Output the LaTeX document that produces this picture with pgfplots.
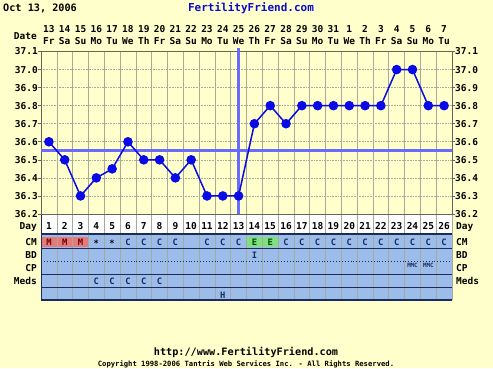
\documentclass[border=0pt]{standalone}
\usepackage{pgfplots}
\pgfplotsset{compat=1.18}
\usepackage{fontspec}
\setmainfont{DejaVu Sans Mono}
\definecolor{bg}{HTML}{FFFFCC}
\definecolor{tblue}{HTML}{9CBDEA}
\definecolor{mred}{HTML}{E57A7A}
\definecolor{egreen}{HTML}{7FE07F}
\definecolor{navy}{HTML}{1C2B5E}
\definecolor{tline}{HTML}{0A0AE6}
\definecolor{cover}{HTML}{6A6AFF}
\definecolor{ffblue}{HTML}{0A0AD0}
\definecolor{gridc}{HTML}{A8A8A0}
\newcommand\lf{\fontsize{9.5bp}{11.4bp}\selectfont\bfseries}
\newcommand\smf{\fontsize{8.8bp}{9bp}\selectfont\bfseries}
\begin{document}
\begin{tikzpicture}[x=1bp,y=1bp]
\fill[bg] (0,0) rectangle (493,368);
\node[anchor=base west, inner sep=0] at (3,356.5) {\fontsize{10.2bp}{11bp}\selectfont\bfseries Oct 13, 2006};
\node[anchor=base, inner sep=0, text=ffblue] at (251,356.5) {\fontsize{11bp}{12bp}\selectfont\bfseries FertilityFriend.com};
\node[anchor=base, inner sep=0] at (246,13) {\fontsize{10.2bp}{11bp}\selectfont\bfseries http://www.FertilityFriend.com};
\node[anchor=base, inner sep=0] at (246,1.5) {\fontsize{7.2bp}{8bp}\selectfont\bfseries Copyright 1998-2006 Tantris Web Services Inc. - All Rights Reserved.};
\node[anchor=base east, inner sep=0] at (37,329) {\lf Date};

% ---- chart table ----
\begin{axis}[at={(41bp,68bp)}, anchor=south west, scale only axis, width=411bp, height=86bp,
  xmin=0.5, xmax=26.5, ymin=-300, ymax=-214, hide axis, clip=false]
\fill[white] (axis cs:0.5,-234) rectangle (axis cs:26.5,-214);
\fill[tblue] (axis cs:0.5,-300) rectangle (axis cs:26.5,-234);
\fill[mred] (axis cs:0.5,-246.7) rectangle (axis cs:3.5,-236.5);
\fill[egreen] (axis cs:13.5,-246.7) rectangle (axis cs:15.5,-236.5);
\pgfplotsinvokeforeach{1.5,2.5,...,25.5}{\draw[gridc, line width=0.6bp] (axis cs:#1,-300) -- (axis cs:#1,-214);}
\draw[navy, line width=1.2bp] (axis cs:0.5,-234) -- (axis cs:26.5,-234);
\draw[navy, line width=0.9bp] (axis cs:0.5,-248) -- (axis cs:26.5,-248);
\draw[navy, line width=0.9bp, dotted] (axis cs:0.5,-261) -- (axis cs:26.5,-261);
\draw[navy, line width=0.9bp] (axis cs:0.5,-274) -- (axis cs:26.5,-274);
\draw[navy, line width=0.9bp] (axis cs:0.5,-287) -- (axis cs:26.5,-287);
\draw[navy, line width=1.2bp] (axis cs:0.5,-300) -- (axis cs:26.5,-300);
\draw[navy, line width=1bp] (axis cs:0.5,-300) -- (axis cs:0.5,-214);
\draw[gridc, line width=0.8bp] (axis cs:26.5,-300) -- (axis cs:26.5,-214);
% day numbers
\pgfplotsinvokeforeach{1,...,26}{\node[anchor=base, inner sep=0] at (axis cs:#1,-229) {\lf #1};}
% row labels
\node[anchor=base east, inner sep=0] at ([xshift=-4bp]axis cs:0.5,-229) {\lf Day};
\node[anchor=base east, inner sep=0] at ([xshift=-4bp]axis cs:0.5,-245) {\lf CM};
\node[anchor=base east, inner sep=0] at ([xshift=-4bp]axis cs:0.5,-258) {\lf BD};
\node[anchor=base east, inner sep=0] at ([xshift=-4bp]axis cs:0.5,-271.5) {\lf CP};
\node[anchor=base east, inner sep=0] at ([xshift=-4bp]axis cs:0.5,-284.5) {\lf Meds};
\node[anchor=base west, inner sep=0] at ([xshift=4bp]axis cs:26.5,-229) {\lf Day};
\node[anchor=base west, inner sep=0] at ([xshift=4bp]axis cs:26.5,-245) {\lf CM};
\node[anchor=base west, inner sep=0] at ([xshift=4bp]axis cs:26.5,-258) {\lf BD};
\node[anchor=base west, inner sep=0] at ([xshift=4bp]axis cs:26.5,-271.5) {\lf CP};
\node[anchor=base west, inner sep=0] at ([xshift=4bp]axis cs:26.5,-284.5) {\lf Meds};
% CM row
\pgfplotsinvokeforeach{1,2,3}{\node[anchor=base, inner sep=0, text=red!45!black] at (axis cs:#1,-245) {\smf M};}
\pgfplotsinvokeforeach{4,5}{\node[anchor=base, inner sep=0] at (axis cs:#1,-246) {\smf *};}
\pgfplotsinvokeforeach{6,7,8,9,11,12,13,16,17,18,19,20,21,22,23,24,25,26}{\node[anchor=base, inner sep=0, text=navy] at (axis cs:#1,-245) {\smf C};}
\pgfplotsinvokeforeach{14,15}{\node[anchor=base, inner sep=0, text=green!30!black] at (axis cs:#1,-245) {\smf E};}
% BD row
\node[anchor=base, inner sep=0, text=navy] at (axis cs:14,-258.5) {\smf I};
% CP row
\pgfplotsinvokeforeach{24,25}{\node[anchor=base, inner sep=0, text=navy] at (axis cs:#1,-267.5) {\fontsize{5.8bp}{6bp}\selectfont\bfseries MMC};}
% Meds row
\pgfplotsinvokeforeach{4,5,6,7,8}{\node[anchor=base, inner sep=0, text=navy] at (axis cs:#1,-284.5) {\smf C};}
% last row
\node[anchor=base, inner sep=0, text=navy] at (axis cs:12,-298) {\smf H};
\end{axis}

% ---- temperature chart ----
\begin{axis}[at={(41bp,154bp)}, anchor=south west, scale only axis, width=411bp, height=162.5bp,
  xmin=0.5, xmax=26.5, ymin=36.2, ymax=37.1, clip=false,
  axis background/.style={fill=bg},
  axis line style={gridc!60!black, line width=0.8bp},
  xtick={1,...,26},
  xticklabels={{13\\Fr},{14\\Sa},{15\\Su},{16\\Mo},{17\\Tu},{18\\We},{19\\Th},{20\\Fr},{21\\Sa},{22\\Su},{23\\Mo},{24\\Tu},{25\\We},{26\\Th},{27\\Fr},{28\\Sa},{29\\Su},{30\\Mo},{31\\Tu},{1\\We},{2\\Th},{3\\Fr},{4\\Sa},{5\\Su},{6\\Mo},{7\\Tu}},
  xticklabel pos=upper,
  xticklabel style={align=center, font=\lf, inner sep=0pt, anchor=south, yshift=7bp},
  x tick style={draw=none},
  minor xtick={0.5,1.5,...,26.5},
  xminorgrids, minor x grid style={gridc, line width=0.6bp},
  ytick={36.2,36.3,36.4,36.5,36.6,36.7,36.8,36.9,37.0,37.1},
  ymajorgrids, major y grid style={gridc, line width=0.6bp, densely dotted},
  ytick align=outside, major tick length=3bp,
  y tick style={gridc!60!black, line width=0.6bp},
  yticklabel pos=left,
  yticklabel style={font=\lf, inner sep=0pt, /pgf/number format/.cd, fixed, fixed zerofill, precision=1, assume math mode=true},
  ]
\addplot[cover, line width=2.8bp] coordinates {(0.5,36.55) (26.5,36.55)};
\addplot[cover, line width=2.8bp] coordinates {(13,36.2) (13,37.12)};
\addplot[tline, line width=1.5bp, mark=*, mark size=4bp, mark options={fill=tline, draw=tline}] coordinates {
(1,36.6) (2,36.5) (3,36.3) (4,36.4) (5,36.45) (6,36.6) (7,36.5) (8,36.5) (9,36.4) (10,36.5)
(11,36.3) (12,36.3) (13,36.3) (14,36.7) (15,36.8) (16,36.7) (17,36.8) (18,36.8) (19,36.8) (20,36.8)
(21,36.8) (22,36.8) (23,37.0) (24,37.0) (25,36.8) (26,36.8)};
\end{axis}
\begin{axis}[at={(41bp,154bp)}, anchor=south west, scale only axis, width=411bp, height=162.5bp,
  xmin=0.5, xmax=26.5, ymin=36.2, ymax=37.1,
  hide x axis, axis y line*=right,
  axis line style={gridc!60!black, line width=0.8bp},
  ytick={36.2,36.3,36.4,36.5,36.6,36.7,36.8,36.9,37.0,37.1},
  ytick align=outside, major tick length=3bp,
  y tick style={gridc!60!black, line width=0.6bp},
  yticklabel style={font=\lf, inner sep=0pt, /pgf/number format/.cd, fixed, fixed zerofill, precision=1, assume math mode=true},
  ]
\end{axis}
\end{tikzpicture}
\end{document}
